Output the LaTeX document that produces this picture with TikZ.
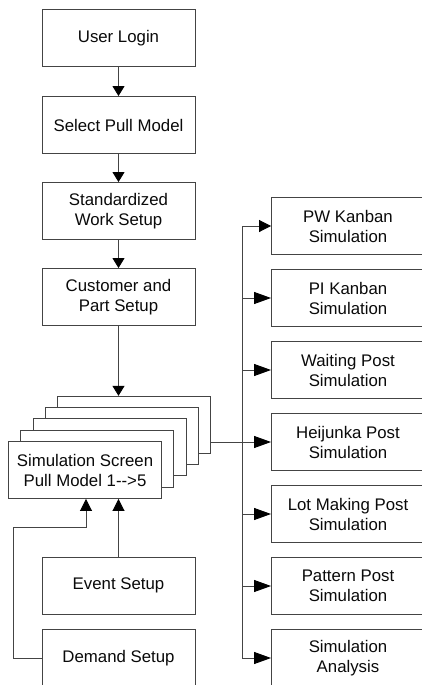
\documentclass[tikz,border=0pt]{standalone}
\usepackage{fontspec}
\setmainfont{Liberation Sans}
\usetikzlibrary{arrows.meta,positioning}

\definecolor{edge}{HTML}{444444}
\definecolor{txt}{HTML}{0A0A0A}

\tikzset{
  box/.style={draw=edge, fill=white, line width=0.9pt, minimum width=153pt,
    minimum height=57pt, inner sep=2pt, align=center, text=txt,
    font=\fontsize{16.8}{20}\selectfont},
  sheet/.style={draw=edge, fill=white, line width=0.9pt, minimum width=153pt,
    minimum height=57pt, inner sep=0pt},
  link/.style={draw=edge, line width=0.9pt},
  downtip/.style={link, -{Triangle[length=10pt,width=12pt,fill=black,color=black]}},
  sidetip/.style={link, -{Triangle[length=17pt,width=12pt,fill=black,color=black]}},
  shorttip/.style={link, -{Triangle[length=12pt,width=12pt,fill=black,color=black]}},
}

\begin{document}
\begin{tikzpicture}[x=1pt, y=-1pt]
  \useasboundingbox (0,0) rectangle (422,685);
  \clip (0,0) rectangle (422,685);

  % main column
  \node[box] (login)  at (118.5,38)  {User Login};
  \node[box] (select) at (118.5,125) {Select Pull Model};
  \node[box] (work)   at (118.5,211) {Standardized\\Work Setup};
  \node[box] (cust)   at (118.5,297) {Customer and\\Part Setup};

  % stacked simulation screens, back to front
  \node[sheet] (s5) at (134.2,424.8) {};
  \node[sheet] (s4) at (121.9,436.1) {};
  \node[sheet] (s3) at (109.6,447.4) {};
  \node[sheet] (s2) at (97.3,458.7)  {};
  \node[box]   (s1) at (85,470)      {Simulation Screen\\Pull Model 1-{}-{}>5};

  \node[box] (event)  at (118.5,585.5) {Event Setup};
  \node[box] (demand) at (118.5,658)   {Demand Setup};

  % simulation modules
  \node[box] (pw)   at (348,226) {PW Kanban\\Simulation};
  \node[box] (pi)   at (348,298) {PI Kanban\\Simulation};
  \node[box] (wait) at (348,370) {Waiting Post\\Simulation};
  \node[box] (heij) at (348,442) {Heijunka Post\\Simulation};
  \node[box] (lot)  at (348,514) {Lot Making Post\\Simulation};
  \node[box] (patt) at (348,586) {Pattern Post\\Simulation};
  \node[box] (ana)  at (348,658) {Simulation\\Analysis};

  % main flow
  \draw[downtip] (login) -- (select);
  \draw[downtip] (select) -- (work);
  \draw[downtip] (work) -- (cust);
  \draw[downtip] (cust.south) -- (cust.south |- s5.north);

  % inputs to the simulation screen
  \coordinate (bx) at (13,0);
  \coordinate (jog) at (86,527);
  \draw[shorttip] (event.north) -- (event.north |- s1.south);
  \draw[shorttip] (demand.west) -- (bx |- demand.west) -- (bx |- jog) -- (jog)
        -- (jog |- s1.south);

  % distribution bus to the modules
  \coordinate (bus) at (242,0);
  \draw[link] (bus |- pw.west) -- (bus |- ana.west);
  \draw[link] (s5.east |- heij.west) -- (bus |- heij.west);
  \draw[shorttip] (bus |- pw.west) -- (pw.west);
  \foreach \m in {pi,wait,heij,lot,patt,ana}
    \draw[sidetip] (bus |- \m.west) -- (\m.west);
\end{tikzpicture}
\end{document}
